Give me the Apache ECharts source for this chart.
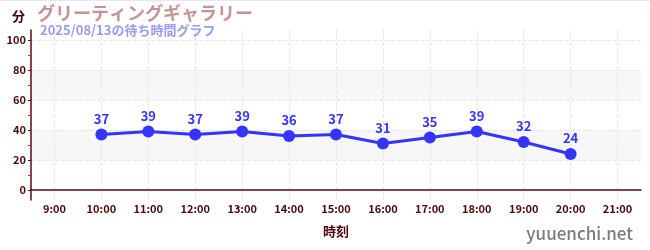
<!DOCTYPE html>
<html><head><meta charset="utf-8">
<script src="https://cdn.jsdelivr.net/npm/echarts@6/dist/echarts.min.js"></script>
<style>html,body{margin:0;padding:0;background:#fff}#c{width:650px;height:250px;position:relative}#tl{position:absolute;left:0;top:0;width:650px;height:1px;background:#e6e6f8;z-index:5}</style>
</head><body>
<div id="c"></div><div id="tl"></div>
<script>
const categories = ['9:00','10:00','11:00','12:00','13:00','14:00','15:00','16:00','17:00','18:00','19:00','20:00','21:00'];
const waitTimes = [null,37,39,37,39,36,37,31,35,39,32,24,null];
const yTickValues = [0,20,40,60,80,100];
const yMinorTickValues = [10,30,50,70,90];
const titleText = 'グリーティングギャラリー';
const subtitleText = '2025/08/13の待ち時間グラフ';
const yName = '分';
const xName = '時刻';
const watermark = 'yuuenchi.net';

const FONT = '"Noto Sans CJK JP","Noto Sans",sans-serif';
const yMin = -20/3, yMax = 320/3;
const chart = echarts.init(document.getElementById('c'), null, {renderer:'canvas'});
chart.setOption({
  animation:false,
  textStyle:{fontFamily:FONT},
  title:[
    {text:titleText, left:32, top:-1, textStyle:{fontFamily:FONT,fontSize:18,fontWeight:'bold',color:'#c49596'}},
    {text:subtitleText, left:35, top:19, textStyle:{fontFamily:FONT,fontSize:13,fontWeight:'bold',color:'#9b9bf2'}},
    {text:watermark, right:12, bottom:3, textStyle:{fontFamily:FONT,fontSize:17,fontWeight:500,color:'#7c7c7c'}}
  ],
  grid:{left:31, right:9, top:30, bottom:50},
  xAxis:{
    type:'category', data:categories, boundaryGap:true,
    name:xName, nameLocation:'middle', nameGap:25,
    nameTextStyle:{fontFamily:FONT,fontSize:13,fontWeight:'bold',color:'#4a0a0a'},
    axisLine:{lineStyle:{color:'#5a0a0a',width:1.5}},
    axisTick:{alignWithLabel:true,length:3,lineStyle:{color:'#666'}},
    axisLabel:{fontFamily:FONT,fontSize:11,fontWeight:'bold',color:'#4a0a0a',margin:3},
    splitLine:{show:true,alignWithLabel:true,lineStyle:{type:'dashed',color:'#e8e8e8'}}
  },
  yAxis:[{
    type:'value', min:yMin, max:yMax,
    name:yName, nameLocation:'end', nameGap:14,
    nameTextStyle:{fontFamily:FONT,fontSize:13,fontWeight:'bold',color:'#3a0505',align:'right',verticalAlign:'middle',padding:[0,6,0,0]},
    axisLine:{show:true,lineStyle:{color:'#5a0a0a',width:1.5}},
    axisTick:{show:true,length:3,customValues:yTickValues,lineStyle:{color:'#222'}},
    axisLabel:{customValues:yTickValues,fontFamily:FONT,fontSize:11,fontWeight:'bold',color:'#4a0a0a',margin:5},
    splitLine:{show:true,lineStyle:{type:'dashed',color:'#e8e8e8'}},
    splitArea:{show:true,areaStyle:{color:['rgba(255,255,255,0)','#f7f7f7']}}
  },{
    type:'value', min:yMin, max:yMax, position:'left',
    axisLine:{show:false},
    axisTick:{show:true,length:3,customValues:yMinorTickValues,lineStyle:{color:'#e02020'}},
    axisLabel:{show:false},
    splitLine:{show:false}
  }],
  series:[{
    type:'line', data:waitTimes, yAxisIndex:0,
    symbol:'circle', symbolSize:12,
    lineStyle:{color:'#3434ff',width:3},
    itemStyle:{color:'#3434ff'},
    label:{show:true,position:'top',distance:3,fontFamily:FONT,fontSize:13,fontWeight:'bold',color:'#3434ff'}
  }]
});
</script>
</body></html>
